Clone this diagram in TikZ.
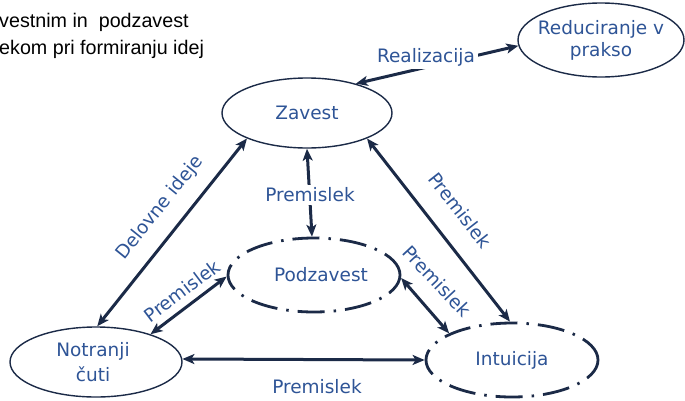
\documentclass[tikz,border=0pt]{standalone}
\usepackage{fontspec}
\setmainfont{Liberation Sans}
\newfontfamily\diagfont{DejaVu Sans}
\usetikzlibrary{shapes.geometric,arrows.meta}
\definecolor{navy}{HTML}{1B2A47}
\definecolor{inkblue}{HTML}{2E5496}
\begin{document}
\begin{tikzpicture}[x=1pt,y=-1pt,
  solidell/.style={ellipse, draw=navy, line width=1.4pt, inner sep=0pt},
  dashell/.style={ellipse, draw=navy, line width=2.8pt, inner sep=0pt,
    dash pattern=on 27pt off 9pt on 2.5pt off 9pt},
  txt/.style={text=inkblue, font=\diagfont\fontsize{18.5}{22}\selectfont, inner sep=1pt},
  tip/.tip={Stealth[length=12pt,width=10pt,inset=3pt]},
  link/.style={draw=navy, line width=3pt, tip-tip},
  note/.style={font=\fontsize{19.7}{24}\selectfont, anchor=base west, inner sep=0pt}
]
\useasboundingbox (0,0) rectangle (685,400);

% note text in the upper left corner
\node[note] (n1) at (-1,27) {vestnim in\ \ podzavest};
\node[note] (n2) at (-1,54) {ekom pri formiranju idej};

% states
\node[solidell, minimum width=170pt, minimum height=70pt,
      label={[txt]center:Zavest}] (zav) at (307,113) {};
\node[solidell, minimum width=166pt, minimum height=74pt,
      label={[txt,align=center]center:Reduciranje v\\prakso}] (red) at (601,40) {};
\node[dashell, minimum width=172pt, minimum height=74pt,
      label={[txt,xshift=7pt]center:Podzavest}] (pod) at (314,275) {};
\node[solidell, minimum width=172pt, minimum height=70pt,
      label={[txt,align=center,font=\diagfont\fontsize{18.5}{25}\selectfont,xshift=-3pt]center:Notranji\\čuti}] (not) at (96,362) {};
\node[dashell, minimum width=172pt, minimum height=74pt,
      label={[txt]center:Intuicija}] (int) at (512,360) {};

% connectors
\draw[link] (zav.31.8) -- (red.184.8);
\draw[link] (not.88.5) -- (zav.203.5);
\draw[link] (zav.270) -- (pod.93);
\draw[link] (zav.337.4) -- (int.93);
\draw[link] (pod.358.6) -- (int.157.2);
\draw[link] (pod.181.3) -- (not.27.4);
\draw[link] (not.2) -- (int.180);

% connector labels
\node[txt, fill=white, inner sep=3pt] (lreal) at (426,57) {Realizacija};
\node[txt, rotate=51] (lidej) at (160,208) {Delovne ideje};
\node[txt, fill=white, inner sep=3pt] (lzp) at (310,195) {Premislek};
\node[txt, rotate=-52] (lzi) at (460,210) {Premislek};
\node[txt, rotate=-47] (lpi) at (437,281) {Premislek};
\node[txt, rotate=37] (lpn) at (182,291) {Premislek};
\node[txt] (lni) at (317,387) {Premislek};
\end{tikzpicture}
\end{document}
